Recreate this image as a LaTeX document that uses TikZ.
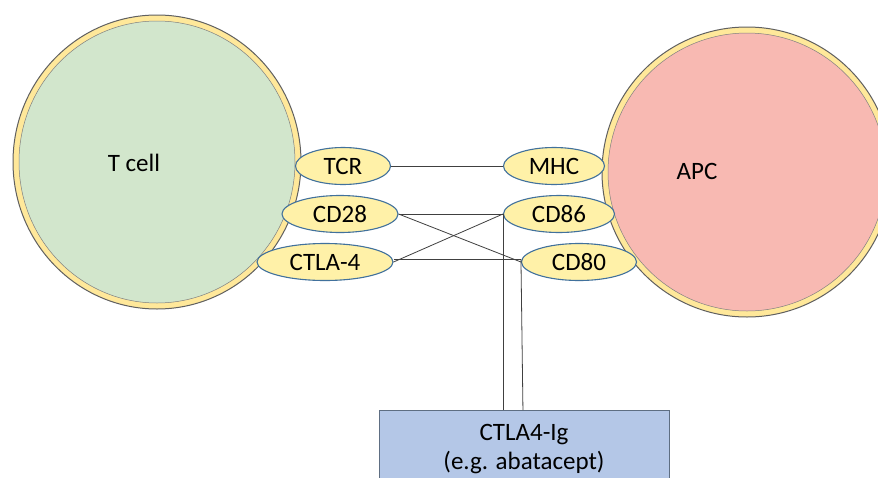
\documentclass[tikz,border=0pt]{standalone}
\usepackage{fontspec}
\setmainfont{Carlito}
\usetikzlibrary{shapes.geometric}
\definecolor{ringyellow}{HTML}{FFE89A}
\definecolor{tgreen}{HTML}{D2E6CC}
\definecolor{apcpink}{HTML}{F8B9B2}
\definecolor{molfill}{HTML}{FFF1A8}
\definecolor{moledge}{HTML}{41719C}
\definecolor{boxfill}{HTML}{B4C7E7}
\definecolor{boxedge}{HTML}{5E6E82}
\definecolor{cellline}{HTML}{606060}
\tikzset{
  molecule/.style={ellipse, draw=moledge, fill=molfill, line width=1.1pt,
    inner sep=0pt, minimum height=37pt},
  bond/.style={draw=black!75, line width=0.8pt},
  drugbox/.style={rectangle, draw=boxedge, fill=boxfill, line width=1pt,
    minimum width=290pt, minimum height=78pt, align=center, anchor=north,
    inner sep=0pt},
  membrane/.style={fill=ringyellow, draw=cellline, line width=1pt},
  cytoplasm/.style={draw=cellline!80, line width=0.5pt}
}
\begin{document}
\begin{tikzpicture}[x=1pt, y=-1pt, font=\fontsize{25}{29}\selectfont]
\useasboundingbox (0,0) rectangle (878,477);
\clip (0,0) rectangle (878,477);
\fill[white] (0,0) rectangle (878,477);

% T cell
\path[membrane] (157,162) ellipse [x radius=144, y radius=147];
\path[cytoplasm, fill=tgreen] (157,162) ellipse [x radius=138, y radius=141];
\node (tcell) at (134,163) {T cell};

% antigen presenting cell
\path[membrane] (747,172) ellipse [x radius=145, y radius=145];
\path[cytoplasm, fill=apcpink] (747,172) ellipse [x radius=139, y radius=139];
\node (apc) at (697,171) {APC};

% surface molecules
\node[molecule, minimum width=95pt]  (tcr)   at (343,166) {TCR};
\node[molecule, minimum width=116pt] (cd28)  at (340,214) {CD28};
\node[molecule, minimum width=136pt] (ctla4) at (325,262) {CTLA-4};
\node[molecule, minimum width=101pt] (mhc)   at (554,166) {MHC};
\node[molecule, minimum width=111pt] (cd86)  at (559,214) {CD86};
\node[molecule, minimum width=115pt] (cd80)  at (579,262) {CD80};

% fusion protein
\node[drugbox] (drug) at (524,410) {CTLA4-Ig\\(e.g. abatacept)};

% interactions
\draw[bond] (tcr.east) -- (mhc.west);
\draw[bond] (cd28.east) -- (cd86.west);
\draw[bond] (cd28.east) -- (cd80.west);
\draw[bond] (ctla4.east) -- (cd86.west);
\draw[bond] ([yshift=3pt]ctla4.east) -- ([yshift=3pt]cd80.west);
\draw[bond] (cd86.west) -- (cd86.west |- drug.north);
\draw[bond] ([yshift=3pt]cd80.west) -- ([xshift=2pt]cd80.west |- drug.north);
\end{tikzpicture}
\end{document}
